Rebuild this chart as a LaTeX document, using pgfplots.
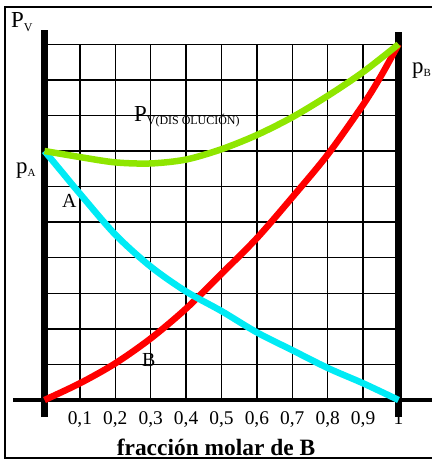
\documentclass[border=0pt]{standalone}
\usepackage{pgfplots}
\pgfplotsset{compat=1.18}
\usepackage{fontspec}
\setmainfont{Liberation Serif}

\definecolor{lima}{RGB}{143,230,0}
\definecolor{celeste}{RGB}{0,235,245}
\definecolor{rojo}{RGB}{255,0,0}

\newcommand{\fs}[1]{\fontsize{#1}{#1}\selectfont}

\begin{document}
\begin{tikzpicture}
\useasboundingbox (0,0) rectangle (432bp,460bp);
% marco exterior
\draw[line width=1.5bp] (440bp,453bp) -- (5bp,453bp) -- (5bp,2bp) -- (440bp,2bp);

\begin{axis}[
	at={(44.5bp,60bp)}, anchor=south west,
	width=354bp, height=355.7bp,
	scale only axis,
	clip=false,
	xmin=0, xmax=1,
	ymin=0, ymax=10,
	axis line style={draw=none},
	major tick length=0pt,
	xtick={0.1,0.2,0.3,0.4,0.5,0.6,0.7,0.8,0.9,1},
	xticklabels={{0,1},{0,2},{0,3},{0,4},{0,5},{0,6},{0,7},{0,8},{0,9},{1}},
	xticklabel style={font=\fs{19.5}, anchor=north, inner sep=0pt, yshift=-11bp},
	ytick={0,1,...,10},
	yticklabels={},
	xmajorgrids, ymajorgrids,
	major grid style={black, line width=1.3bp},
]

% ejes gruesos
\addplot[black, line width=3.5bp] coordinates {(-0.089,0) (1.2,0)};
\addplot[black, line width=6.5bp] coordinates {(0,-0.48) (0,10.4)};
\addplot[black, line width=6.5bp] coordinates {(1,-0.48) (1,10.35)};

% presion parcial de B
\addplot[rojo, line width=6.5bp, smooth] coordinates {
	(0,0) (0.1,0.47) (0.2,1.03) (0.3,1.73) (0.4,2.57) (0.5,3.55)
	(0.6,4.55) (0.7,5.7) (0.8,6.9) (0.9,8.3) (0.95,9.1) (1,10)
};
% presion parcial de A
\addplot[celeste, line width=6.5bp, smooth] coordinates {
	(0,7) (0.05,6.4) (0.1,5.8) (0.2,4.65) (0.3,3.75) (0.4,3.05)
	(0.5,2.5) (0.6,1.9) (0.7,1.4) (0.8,0.9) (0.9,0.47) (1,0)
};
% presion total
\addplot[lima, line width=6.5bp, smooth] coordinates {
	(0,7) (0.1,6.83) (0.2,6.68) (0.3,6.65) (0.4,6.76) (0.5,7.05)
	(0.6,7.45) (0.7,7.95) (0.8,8.55) (0.9,9.22) (1,10)
};
\end{axis}

% rotulos
\node[anchor=base west, inner sep=0pt] at (11bp,432bp)
	{\fs{23}P\raisebox{-4bp}{\fs{12}V}};
\node[anchor=base west, inner sep=0pt] at (16bp,286bp)
	{\fs{23}p\raisebox{-3bp}{\fs{11}A}};
\node[anchor=base west, inner sep=0pt] at (412bp,386bp)
	{\fs{23}p\raisebox{-3bp}{\fs{11}B}};
\node[anchor=base west, inner sep=0pt] at (62bp,252bp) {\fs{20}A};
\node[anchor=base west, inner sep=0pt] at (142bp,93bp) {\fs{20}B};
\node[anchor=base west, inner sep=0pt] at (134bp,338bp)
	{\fs{23}P\raisebox{-3bp}{\fs{12}V(DIS OLUCIÓN)}};
\node[anchor=base, inner sep=0pt] at (216bp,5bp)
	{\fs{23.5}\bfseries fracción molar de B};
\end{tikzpicture}
\end{document}
